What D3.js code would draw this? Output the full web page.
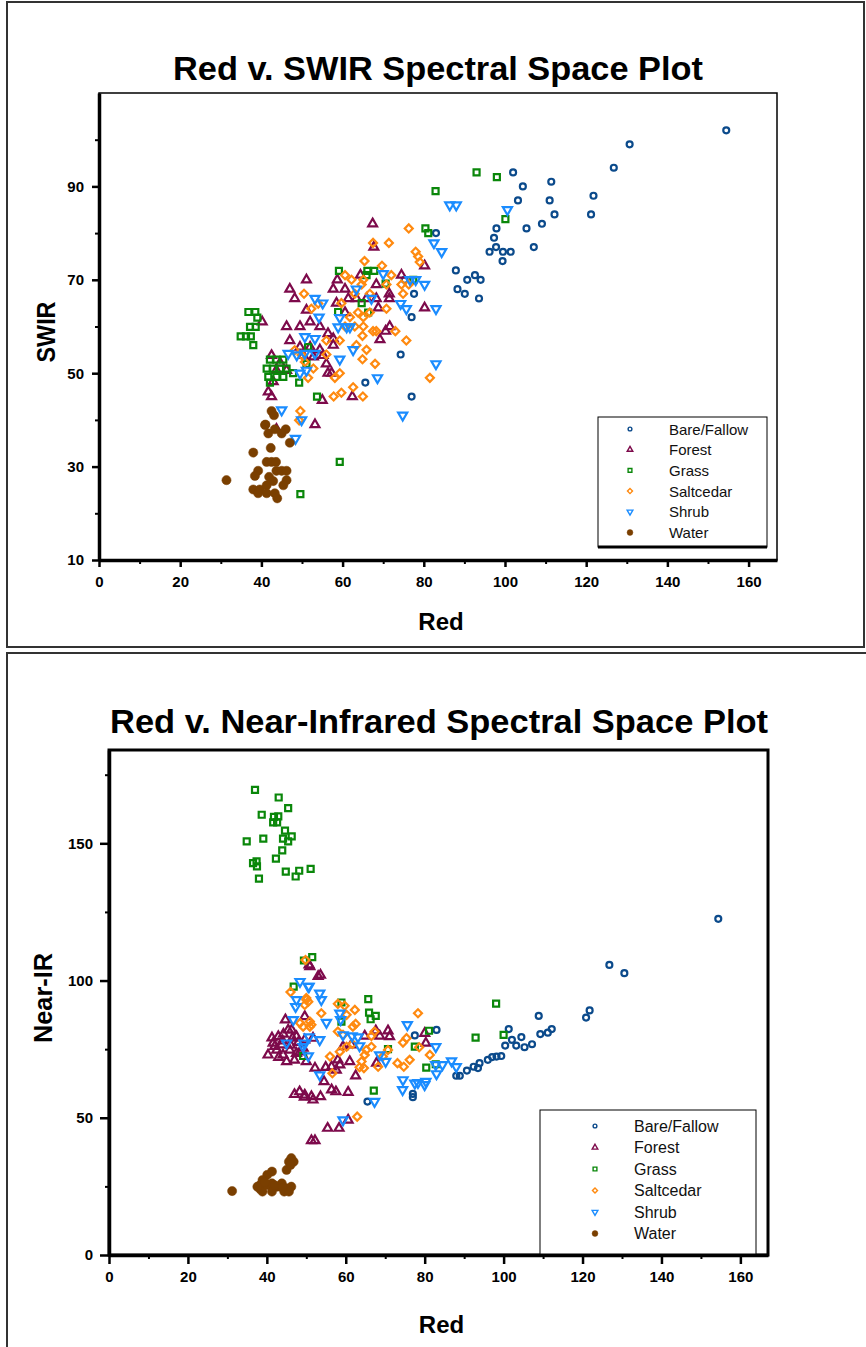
<!DOCTYPE html>
<html>
<head>
<meta charset="utf-8">
<script src="https://cdn.jsdelivr.net/npm/d3@7"></script>
<style>
  body { margin: 0; background: #fff; }
  svg { display: block; }
  text { font-family: "Liberation Sans", Arial, sans-serif; }
</style>
</head>
<body>
<svg id="chart" width="866" height="1347"></svg>
<script>
// classes and colours
const categories = ["Bare/Fallow", "Forest", "Grass", "Saltcedar", "Shrub", "Water"];
const colors = ["#0b4a8b", "#7d0a4b", "#0a870a", "#ff8a10", "#1a8cff", "#7a3f00"];

const redTicks = [0, 20, 40, 60, 80, 100, 120, 140, 160];
const swirTicks = [10, 30, 50, 70, 90];
const nirTicks = [0, 50, 100, 150];

// [red, swir]
const bareSwir = [[154.5,102],[130.7,99],[126.8,94],[102,93],[111.4,91],[104.4,90],[121.8,88],[103.2,87],[111,87],[112.2,84],[121.2,84],[109.1,82],[97.9,81],[105.3,81],[97.3,79],[97.8,77],[107.1,77],[96.2,76],[99.5,76],[101.4,76],[99.4,74],[87.9,72],[92.6,71],[90.7,70],[94,70],[88.3,68],[90.1,67],[93.6,66],[77.6,67],[77,62],[75.3,70],[74.3,54],[65.6,48],[77,45],[83,80]];
const forestSwir = [[67.4,82],[67.7,77],[80.2,73],[74.5,71],[58.7,70],[64.4,71],[68.3,69],[57.7,68],[60.6,68],[71.5,67],[61.4,66],[63.4,66],[65.9,66],[68.3,66],[71.5,66],[80.2,64],[68.8,64],[58.5,65],[60.6,63],[71.6,60],[70.6,59],[57.7,57.4],[69.2,57.2],[62.4,45],[57.7,56],[57.3,50],[51.1,70],[47,68],[48.2,66],[40.2,61],[46.2,60],[51.1,63.5],[49.5,60],[52,61],[54.4,60],[56.4,58.5],[47,57],[49.5,55.6],[52,55.6],[54.4,55],[50.3,53.8],[52.8,53.5],[55.2,53.8],[56,52],[42.5,53.8],[44.6,52.2],[43.7,50.6],[46.2,50.6],[42.9,48.2],[41.7,46],[42.5,45],[55,44.2],[53.2,39],[43.7,38],[56.4,50]];
const grassSwir = [[36.8,63.1],[38.5,63.1],[39,61.9],[37.2,59.9],[38.6,59.9],[34.9,57.9],[36.2,57.9],[37.4,57.9],[38,56],[42.1,52.9],[43.7,52.9],[45.4,52.9],[41.3,51],[42.9,51],[44.6,51],[46.2,51],[41.7,49.2],[43.7,49.2],[45.4,49.2],[42.1,48],[47.8,50],[49.3,48],[51.1,52],[51.5,55.6],[53.7,45],[49.6,24.1],[93,93],[98,92],[82.9,89],[80.4,81],[81.1,80],[100.1,83],[59.1,71.9],[66.1,71.9],[67.8,71.9],[65.9,71],[77.4,70],[70.6,69.2],[64.7,65],[58.9,63.1],[66.3,63],[59.3,31]];
const saltSwir = [[76.3,81],[67.5,77.9],[71.4,77.9],[78,76],[78.6,75],[79,73.8],[65.4,74],[69.7,73],[72,71],[60.6,71],[62.2,70],[65.1,70],[74.5,69],[76.3,69],[70.8,69],[64.7,69],[74.9,67],[66.7,67],[63,67],[59.7,65],[70.8,63.8],[66.7,63],[63.8,63],[61.8,62],[65.1,62],[63,60],[65.1,60],[60.6,60],[67.5,59],[68.3,59],[73,59],[59.3,57],[75.7,57],[64.9,58],[63.4,56],[65.9,55],[64.9,53],[68,52],[59.3,50],[58.1,49],[81.5,49],[62.6,47],[59.7,45.8],[57.8,45],[65,45],[50.5,67],[52.3,63.8],[54,64.9],[48.2,54.9],[49.9,53.9],[50.7,52.4],[52.8,51],[51.5,49],[49.6,41.9],[49.3,39.9],[56,57],[56,54]];
const shrubSwir = [[86.4,86],[88,86],[100.6,85],[82.5,77.9],[84.4,76],[76.6,70],[78,70],[80.2,69],[70,71.3],[63.4,68],[67.1,66],[74.3,64.9],[75.7,63.8],[83,63.8],[59.3,61.9],[58.9,59.9],[61,59.9],[61.8,59.9],[62.6,55],[59.3,53],[68.6,49],[83,52],[74.8,41],[53.2,66],[55.1,65],[54.2,62],[50.7,57.8],[53.2,57.4],[46.6,54.2],[48.7,53.9],[50.7,54.2],[53.2,54.2],[49.5,50],[51.1,50.6],[45,42.1],[49.9,40],[48.4,36]];
const waterSwir = [[31.4,27.1],[38,33],[40.9,38.9],[42.5,41.9],[43.1,41],[41.7,37.1],[43.3,38],[46,38],[45,37.1],[47,35.1],[42.3,34],[41.3,31],[42.5,31],[43.6,31],[43.7,29.1],[45,29.1],[46.2,29.1],[39.2,29.1],[38.4,28],[41.9,27.8],[46.2,27.1],[45.4,26],[38,25.1],[39.6,25.1],[41.3,26],[42.9,26.9],[39.2,24.3],[41.3,24.3],[43.3,24.3],[43.9,23.2],[41,39]];

// [red, near-ir]
const bareNir = [[154.4,122.5],[126.8,105.7],[130.6,102.7],[121.8,89.1],[120.9,86.5],[108.9,87.1],[112.2,82.3],[111.2,81],[109.3,80.5],[101.3,82.3],[104.5,79.4],[102.1,78.4],[103.2,76.3],[105.3,75.7],[107.2,76.8],[100.4,76.3],[99.4,72.5],[98.2,72.3],[97.1,72.1],[96,71.1],[93.9,69.9],[93.5,68.1],[92.4,68.6],[90.7,67.2],[88.9,65.3],[88,65.3],[83,82],[77.5,80],[77,58.7],[77,57.5],[65.5,55.9]];
const forestNir = [[50.7,105.7],[53.6,102],[70.7,81.7],[68.6,79.8],[71.1,79.6],[80,80.8],[80.3,77.2],[64.8,79.8],[61.4,76.6],[59.3,75.9],[58,71.1],[58.5,69.3],[56.4,68.6],[57.6,67.4],[61,70.5],[52.2,68.1],[54.9,68.4],[62.5,65.3],[54.5,63.2],[56.4,60.2],[57.5,59.5],[60.6,59.3],[49.6,58.3],[51.3,57.7],[53.6,57.7],[51.7,56.5],[60.6,49.2],[55.4,46.2],[58.3,46.2],[51.3,41.7],[52.2,41.7],[67.6,81.7],[67.8,69.9],[50.9,105.1],[53,101.5],[49.6,86.9],[45.4,82],[47.5,79.6],[49.6,78.4],[51.7,79],[42.9,79.6],[41.6,77.2],[40.3,72.9],[42.5,74.7],[44.1,72.9],[45.8,74.7],[47.5,73.5],[49.2,75.4],[41.3,79.1],[43.8,76.6],[46.3,82],[48.4,74],[47,58.5],[48.3,59.5],[49.5,57.5],[44.7,85.7],[42,76],[44,78],[46,76.5],[47,71],[45,70.5],[43,72],[48,77.5],[50,70.5],[44.2,80.5],[46.5,79]];
const grassNir = [[37,169.5],[43,166.7],[45.4,162.8],[38.7,160.4],[41.8,159.6],[42.9,159.8],[41.6,157.6],[42.6,157.6],[44.6,154.6],[46.3,152.5],[44.1,151.7],[45.4,150.7],[39.1,151.7],[34.9,150.7],[43.9,147.4],[42.3,144.4],[36.5,142.8],[37.4,143.4],[37.5,141.6],[44.8,139.7],[48.2,140],[47.3,137.9],[51.1,140.7],[38,137.1],[51.5,108.5],[49.4,107.3],[65.7,93.2],[58.9,92],[65.9,88.3],[67.6,87.1],[66.3,85.9],[98.1,91.6],[81.1,81.7],[92.9,79.2],[100,80.2],[77.5,75.9],[70.7,75],[80.4,68.3],[82.8,69.5],[67.1,59.9],[58.9,85],[46.8,97.8],[49.2,72.5]];
const saltNir = [[49.8,107.5],[78.3,88.1],[62.3,89.3],[60.2,87.5],[58,91.5],[59.7,90.8],[62.5,84.2],[61.8,83.2],[58,81.4],[59.3,80.2],[67.3,81.4],[66.5,79.8],[75.4,79],[74.5,77.4],[78.6,75.7],[81.3,72.9],[76.2,71.1],[73.1,69.9],[74.7,68.6],[66.5,75.9],[65.2,74.7],[64.8,72.9],[64,70.5],[63.5,68.4],[64.6,68.1],[68.2,68.6],[69.4,72.3],[70.7,74.7],[60.2,75.9],[61.7,76.9],[58.5,74.1],[56.6,66.2],[56,72.3],[62.9,50.4],[53.8,88.1],[50.9,85.1],[50.9,83.2],[50,93.6],[50.5,92.3],[46,95.8],[50,93],[49.6,91.1],[48.4,84.5],[51.3,83.9],[49.2,83.2]];
const shrubNir = [[50.5,97.8],[48.4,99.6],[53.4,95.4],[53.8,93],[58.5,88.1],[58.7,85.7],[55.1,84.7],[75.6,83.9],[61.6,79.8],[63.1,79.4],[59.3,80.2],[50.7,79.4],[53.4,78.4],[49.2,75.9],[50.5,72.5],[53.4,65.6],[63.5,76.2],[68.6,72.9],[70.1,70.5],[82.8,75.9],[82.8,69.3],[84.5,69.3],[83,66],[86.8,70.7],[88,68.6],[74.5,63.8],[74.4,60.2],[77.5,62.6],[78.3,62.8],[80.3,63.2],[80,62],[67.3,55.9],[59.3,49.2],[50.7,97.8],[47.5,93],[47.3,90.5],[46.7,85.7],[45,77.2],[49.4,77.2]];
const waterNir = [[31.2,23.3],[38.3,25.5],[38.3,24],[38.9,23.1],[40.1,25.5],[41.3,26.1],[42.6,24.9],[43.8,26.1],[45,24.3],[46.2,24.9],[41.3,23.1],[44.4,23.1],[45.6,23.1],[40.1,29.2],[41.3,30.4],[45,31],[45.6,34],[46.2,35.3],[46.8,34],[46,32.8],[38.9,27.3],[37.6,24.9],[39.5,26.5],[42,25.4],[44,24.5]];

const svg = d3.select("#chart");

// panel frames
svg.append("rect").attr("x", 7).attr("y", 2).attr("width", 857).attr("height", 645)
    .attr("fill", "none").attr("stroke", "#333").attr("stroke-width", 2);
svg.append("rect").attr("x", 7).attr("y", 653).attr("width", 880).attr("height", 720)
    .attr("fill", "none").attr("stroke", "#333").attr("stroke-width", 2);

// saltcedar diamond = square turned 45 degrees
const shapes = [d3.symbolCircle, d3.symbolTriangle, d3.symbolSquare, d3.symbolSquare, d3.symbolTriangle, d3.symbolCircle];
const sizes = [28, 34, 36, 32, 36, 66];
const turns = [0, 0, 0, 45, 180, 0];

function marker(sel, i, scale) {
    sel.attr("d", d3.symbol().type(shapes[i]).size(sizes[i] * scale))
        .attr("fill", i === 5 ? colors[i] : "none")
        .attr("stroke", colors[i])
        .attr("stroke-width", i === 5 ? 0.5 : 2.2 * Math.sqrt(scale));
}

function drawPlot(o) {
    const x = d3.scaleLinear().domain([0, 167]).range([o.left, o.right]);
    const y = d3.scaleLinear().domain(o.yDomain).range([o.bottom, o.top]);

    // title
    svg.append("text").attr("x", o.titleX).attr("y", o.titleY)
        .attr("text-anchor", "middle").attr("font-weight", "bold")
        .attr("font-size", o.titleSize).attr("textLength", o.titleLen)
        .attr("lengthAdjust", "spacingAndGlyphs").text(o.title);

    // plot box
    svg.append("rect").attr("x", o.left).attr("y", o.top)
        .attr("width", o.right - o.left).attr("height", o.bottom - o.top)
        .attr("fill", "none").attr("stroke", "#000").attr("stroke-width", o.boxWidth);

    // minor ticks
    svg.append("g").attr("transform", `translate(0,${o.bottom})`)
        .call(d3.axisBottom(x).tickValues(d3.range(10, 160, 20)).tickSize(o.minorTick).tickFormat(""))
        .call(g => g.select(".domain").remove())
        .call(g => g.selectAll("line").attr("stroke-width", 2));
    svg.append("g").attr("transform", `translate(${o.left},0)`)
        .call(d3.axisLeft(y).tickValues(o.yMinor).tickSize(o.minorTick).tickFormat(""))
        .call(g => g.select(".domain").remove())
        .call(g => g.selectAll("line").attr("stroke-width", 2));

    // major axes
    const xa = svg.append("g").attr("transform", `translate(0,${o.bottom})`)
        .call(d3.axisBottom(x).tickValues(redTicks).tickSize(o.majorTick).tickSizeOuter(0).tickPadding(o.xPad));
    const ya = svg.append("g").attr("transform", `translate(${o.left},0)`)
        .call(d3.axisLeft(y).tickValues(o.yTicks).tickSize(o.majorTick).tickSizeOuter(0).tickPadding(o.yPad));
    [xa, ya].forEach(a => {
        a.select(".domain").attr("stroke-width", 3.5);
        a.selectAll("line").attr("stroke-width", 2.5);
        a.selectAll("text").attr("font-size", 15).attr("font-weight", "bold")
            .attr("font-family", "'Liberation Sans', Arial, sans-serif");
    });

    // axis titles
    svg.append("text").attr("x", (o.left + o.right) / 2 + 3).attr("y", o.xLabelY)
        .attr("text-anchor", "middle").attr("font-weight", "bold").attr("font-size", 24)
        .text("Red");
    svg.append("text").attr("transform", `translate(${o.yLabelX},${o.yLabelY}) rotate(-90)`)
        .attr("text-anchor", "middle").attr("font-weight", "bold").attr("font-size", o.yLabelSize)
        .attr("textLength", o.yLabelLen).attr("lengthAdjust", "spacingAndGlyphs")
        .text(o.yLabel);

    // points
    o.series.forEach((data, i) => {
        const g = svg.append("g");
        g.selectAll("path").data(data).join("path")
            .attr("transform", d => `translate(${x(d[0])},${y(d[1])}) rotate(${turns[i]})`)
            .call(marker, i, 1);
    });

    // legend
    const lg = svg.append("g");
    lg.append("rect").attr("x", o.legX).attr("y", o.legY).attr("width", o.legW).attr("height", o.legH)
        .attr("fill", "#fff").attr("stroke", "#000").attr("stroke-width", 1);
    lg.append("line").attr("x1", o.legX).attr("x2", o.legX + o.legW)
        .attr("y1", o.legY + o.legH).attr("y2", o.legY + o.legH)
        .attr("stroke", "#000").attr("stroke-width", 3);
    categories.forEach((c, i) => {
        const cy = o.legY + o.legRow0 + i * o.legStep;
        lg.append("path")
            .attr("transform", `translate(${o.legX + o.legSym},${cy}) rotate(${turns[i]})`)
            .call(marker, i, 0.4);
        lg.append("text").attr("x", o.legX + o.legText).attr("y", cy + 5.5)
            .attr("font-size", o.legFont).attr("fill", "#111").text(c);
    });
}

drawPlot({
    title: "Red v. SWIR Spectral Space Plot", titleX: 438, titleY: 80, titleSize: 34, titleLen: 530,
    left: 99, right: 777, top: 93, bottom: 560, boxWidth: 1.5,
    yDomain: [10, 110], yTicks: swirTicks, yMinor: [20, 40, 60, 80, 100],
    majorTick: 7, minorTick: 4, xPad: 9, yPad: 8,
    xLabelY: 630, yLabel: "SWIR", yLabelX: 55, yLabelY: 332, yLabelSize: 25, yLabelLen: 61,
    series: [bareSwir, forestSwir, grassSwir, saltSwir, shrubSwir, waterSwir],
    legX: 598, legY: 417, legW: 169, legH: 130, legSym: 32, legText: 71, legRow0: 12, legStep: 20.7, legFont: 15
});

drawPlot({
    title: "Red v. Near-Infrared Spectral Space Plot", titleX: 439, titleY: 733, titleSize: 33, titleLen: 658,
    left: 109, right: 768, top: 750, bottom: 1255, boxWidth: 3,
    yDomain: [0, 184], yTicks: nirTicks, yMinor: [25, 75, 125, 175],
    majorTick: 9, minorTick: 4, xPad: 7, yPad: 7,
    xLabelY: 1333, yLabel: "Near-IR", yLabelX: 52, yLabelY: 998, yLabelSize: 26, yLabelLen: 90,
    series: [bareNir, forestNir, grassNir, saltNir, shrubNir, waterNir],
    legX: 540, legY: 1110, legW: 216, legH: 145, legSym: 55, legText: 94, legRow0: 16, legStep: 21.5, legFont: 16
});
</script>
</body>
</html>
